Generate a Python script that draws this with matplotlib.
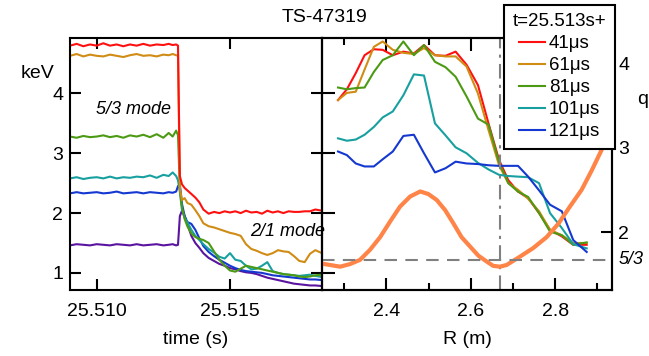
import matplotlib.pyplot as plt
from matplotlib.ticker import FixedLocator

plt.rcParams['font.family'] = ['Liberation Sans', 'DejaVu Sans']

# ---- left panel: Te time traces (s, keV) ----
time_s = [25.50900, 25.50925, 25.50950, 25.50975, 25.51000, 25.51025, 25.51050,
          25.51075, 25.51100, 25.51125, 25.51150, 25.51175, 25.51200, 25.51225,
          25.51250, 25.51270, 25.51285, 25.51298, 25.51305, 25.51312, 25.51320,
          25.51330, 25.51340, 25.51355, 25.51370, 25.51385, 25.51400, 25.51420,
          25.51440, 25.51460, 25.51480, 25.51500, 25.51520, 25.51540, 25.51560,
          25.51580, 25.51600, 25.51620, 25.51640, 25.51660, 25.51680, 25.51700,
          25.51720, 25.51740, 25.51760, 25.51780, 25.51800, 25.51820, 25.51845]

trace_red = [4.80, 4.83, 4.79, 4.82, 4.80, 4.84, 4.80, 4.82, 4.79, 4.82, 4.80, 4.83,
             4.80, 4.82, 4.81, 4.83, 4.81, 4.82, 4.80, 2.62, 2.48, 2.42, 2.38, 2.32,
             2.26, 2.18, 2.06, 1.99, 2.02, 2.00, 2.03, 2.01, 2.03, 2.00, 2.04, 2.01,
             2.02, 1.99, 2.04, 2.01, 2.03, 2.00, 2.03, 2.02, 2.02, 2.03, 2.03, 2.06, 2.04]
trace_orange = [4.63, 4.66, 4.62, 4.65, 4.63, 4.62, 4.65, 4.63, 4.61, 4.64, 4.66, 4.63,
                4.64, 4.62, 4.65, 4.64, 4.66, 4.64, 4.63, 2.40, 2.22, 2.25, 2.17, 2.14,
                2.05, 1.95, 1.83, 1.78, 1.76, 1.73, 1.70, 1.67, 1.65, 1.62, 1.48, 1.40,
                1.37, 1.33, 1.30, 1.33, 1.38, 1.36, 1.35, 1.28, 1.20, 1.18, 1.32, 1.38, 1.33]
trace_green = [3.28, 3.26, 3.29, 3.27, 3.28, 3.30, 3.27, 3.29, 3.26, 3.30, 3.28, 3.31,
               3.27, 3.32, 3.26, 3.34, 3.28, 3.38, 3.30, 2.40, 2.10, 1.90, 1.78, 1.66,
               1.60, 1.57, 1.55, 1.50, 1.36, 1.22, 1.12, 1.04, 1.02, 1.07, 1.12, 1.10,
               1.08, 1.06, 1.04, 1.02, 1.00, 0.98, 0.97, 0.96, 0.94, 0.93, 0.94, 0.96, 0.97]
trace_teal = [2.58, 2.60, 2.57, 2.59, 2.60, 2.58, 2.61, 2.58, 2.60, 2.59, 2.61, 2.60,
              2.63, 2.59, 2.64, 2.62, 2.68, 2.62, 2.55, 2.35, 2.05, 1.92, 1.85, 1.72,
              1.62, 1.55, 1.48, 1.40, 1.34, 1.27, 1.24, 1.33, 1.22, 1.20, 1.12, 1.06,
              1.07, 1.12, 1.18, 1.03, 1.00, 0.98, 0.97, 0.96, 0.95, 0.96, 0.97, 0.95, 0.93]
trace_blue = [2.33, 2.35, 2.33, 2.34, 2.35, 2.33, 2.34, 2.36, 2.33, 2.34, 2.35, 2.33,
              2.35, 2.34, 2.33, 2.35, 2.34, 2.36, 2.45, 2.48, 2.15, 1.95, 1.85, 1.82,
              1.72, 1.58, 1.45, 1.35, 1.28, 1.22, 1.17, 1.12, 1.08, 1.05, 1.03, 1.02,
              1.01, 1.00, 0.98, 0.96, 0.95, 0.94, 0.93, 0.92, 0.91, 0.90, 0.89, 0.89, 0.88]
trace_purple = [1.46, 1.48, 1.47, 1.46, 1.48, 1.47, 1.46, 1.48, 1.47, 1.46, 1.48, 1.46,
                1.47, 1.48, 1.46, 1.47, 1.48, 1.46, 1.47, 1.95, 2.04, 1.95, 1.82, 1.62,
                1.50, 1.42, 1.33, 1.25, 1.20, 1.15, 1.12, 1.08, 1.06, 1.03, 1.01, 1.00,
                0.98, 0.95, 0.92, 0.90, 0.88, 0.86, 0.84, 0.82, 0.81, 0.80, 0.79, 0.79, 0.78]

# ---- right panel: Te profiles (m, keV) ----
R_m = [2.285, 2.306, 2.327, 2.348, 2.370, 2.391, 2.415, 2.440, 2.465, 2.489, 2.515,
       2.540, 2.564, 2.590, 2.617, 2.642, 2.667, 2.689, 2.712, 2.736, 2.762, 2.788,
       2.816, 2.843, 2.875]
te_41us = [3.89, 4.07, 4.34, 4.64, 4.74, 4.73, 4.64, 4.70, 4.67, 4.81, 4.64, 4.63,
           4.70, 4.48, 4.14, 3.50, 2.89, 2.55, 2.36, 2.25, 2.00, 1.72, 1.61, 1.47, 1.47]
te_61us = [3.89, 4.01, 4.03, 4.40, 4.78, 4.87, 4.73, 4.68, 4.66, 4.76, 4.64, 4.62,
           4.62, 4.45, 4.00, 3.39, 2.80, 2.50, 2.39, 2.24, 2.03, 1.72, 1.63, 1.50, 1.50]
te_81us = [4.10, 4.07, 4.09, 4.10, 4.36, 4.56, 4.64, 4.87, 4.64, 4.81, 4.53, 4.44,
           4.28, 3.95, 3.58, 3.48, 2.85, 2.50, 2.36, 2.27, 2.00, 1.69, 1.63, 1.47, 1.51]
te_101us = [3.25, 3.21, 3.23, 3.31, 3.44, 3.60, 3.70, 3.97, 4.32, 4.30, 3.50, 3.30,
            3.10, 3.00, 2.84, 2.73, 2.64, 2.62, 2.61, 2.60, 2.50, 2.00, 1.75, 1.48, 1.41]
te_121us = [3.03, 2.97, 2.83, 2.78, 2.78, 2.90, 3.03, 3.29, 3.31, 3.00, 2.68, 2.75,
            2.86, 2.83, 2.82, 2.80, 2.79, 2.79, 2.79, 2.61, 2.38, 2.14, 2.03, 1.55, 1.35]
profile_labels = ['41\u03bcs', '61\u03bcs', '81\u03bcs', '101\u03bcs', '121\u03bcs']

# q profile
q_R = [2.242, 2.266, 2.290, 2.313, 2.337, 2.361, 2.385, 2.408, 2.432, 2.456, 2.480,
       2.499, 2.519, 2.539, 2.559, 2.578, 2.598, 2.618, 2.638, 2.653, 2.669, 2.685,
       2.717, 2.748, 2.780, 2.808, 2.835, 2.863, 2.887, 2.914]
q_val = [1.63, 1.61, 1.59, 1.62, 1.67, 1.79, 1.94, 2.12, 2.30, 2.42, 2.48, 2.45, 2.38,
         2.26, 2.10, 1.94, 1.83, 1.72, 1.65, 1.60, 1.59, 1.61, 1.71, 1.81, 1.94, 2.10,
         2.30, 2.50, 2.73, 3.01]
q_surface = 5 / 3
R_surface = 2.669

c_red, c_orange, c_green = '#ff1010', '#d08c14', '#4c9a14'
c_teal, c_blue, c_purple = '#18a0a0', '#1438d0', '#5a14a0'
c_q = '#ff8448'
c_gray = '#808080'

fig = plt.figure(figsize=(6.49, 3.56), dpi=100)
ax1 = fig.add_axes([70 / 649, 66 / 356, 252 / 649, 252 / 356])
ax2 = fig.add_axes([322 / 649, 66 / 356, 290 / 649, 252 / 356])
ax2.set_facecolor('none')

lw = 1.5
for vals, col in [(trace_purple, c_purple), (trace_blue, c_blue), (trace_teal, c_teal),
                  (trace_green, c_green), (trace_orange, c_orange), (trace_red, c_red)]:
    ax1.plot(time_s, vals, color=col, lw=lw)

ax1.set_xlim(25.50900, 25.51845)
ax1.set_ylim(0.714, 4.928)
ax1.set_xticks([25.510, 25.515])
ax1.set_xticklabels(['25.510', '25.515'])
ax1.set_yticks([1, 2, 3, 4])
ax1.set_xlabel('time (s)', fontsize=14, labelpad=8)
ax1.text(25.5114, 3.73, '5/3 mode', fontsize=13, style='italic', ha='center', va='center')
ax1.text(25.51717, 1.69, '2/1 mode', fontsize=13, style='italic', ha='center',
         va='center', clip_on=False)

prof_lines = []
for vals, col, lab in zip([te_41us, te_61us, te_81us, te_101us, te_121us],
                          [c_red, c_orange, c_green, c_teal, c_blue], profile_labels):
    ln, = ax2.plot(R_m, vals, color=col, lw=lw, label=lab)
    prof_lines.append(ln)
ax2.set_xlim(2.247, 2.935)
ax2.set_ylim(0.714, 4.928)
ax2.set_xticks([2.4, 2.6, 2.8])
ax2.xaxis.set_minor_locator(FixedLocator([2.3, 2.5, 2.7, 2.9]))
ax2.set_yticks([1, 2, 3, 4])
ax2.set_xlabel('R (m)', fontsize=14, labelpad=8)
ax2.axvline(R_surface, color=c_gray, lw=1.5, ls=(0, (7, 3, 1.5, 3)))

axq = ax2.twinx()
axq.plot(q_R, q_val, color=c_q, lw=3)
axq.axhline(q_surface, color=c_gray, lw=1.5, ls=(0, (6, 4)))
axq.set_ylim(1.314, 4.296)
axq.set_yticks([2, 3, 4])

for ax in (ax1, ax2, axq):
    for sp in ax.spines.values():
        sp.set_linewidth(1.5)
ax1.tick_params(direction='in', top=True, right=True, length=8, width=1.5,
                labelsize=14)
ax1.tick_params(axis='x', pad=9)
ax1.tick_params(axis='y', pad=5)
ax2.tick_params(which='both', direction='in', top=True, left=True, right=False,
                labelleft=False, width=1.5, labelsize=14, pad=9)
ax2.tick_params(which='major', length=9)
ax2.tick_params(which='minor', length=5)
axq.tick_params(direction='in', length=8, width=1.5, labelsize=14, pad=4.5)

fig.text(37 / 649, 1 - 74 / 356, 'keV', fontsize=14, ha='center', va='center')
fig.text(643 / 649, 1 - 100 / 356, 'q', fontsize=14, ha='center', va='center')
fig.text(631 / 649, 1 - 260 / 356, '5/3', fontsize=13, style='italic', ha='center',
         va='center')
fig.text(325 / 649, 1 - 17 / 356, 'TS-47319', fontsize=14, ha='center', va='center')

leg = fig.legend(prof_lines, profile_labels, title='t=25.513s+', loc='upper left',
                 bbox_to_anchor=(504 / 649, 1 - 5 / 356), fontsize=13.5,
                 title_fontsize=13.5, handlelength=1.4, handletextpad=0.2,
                 labelspacing=0.26, borderpad=0.45, borderaxespad=0, fancybox=False,
                 framealpha=1, edgecolor='black')
leg.get_frame().set_linewidth(1.5)

fig.savefig('out.png', dpi=100)
